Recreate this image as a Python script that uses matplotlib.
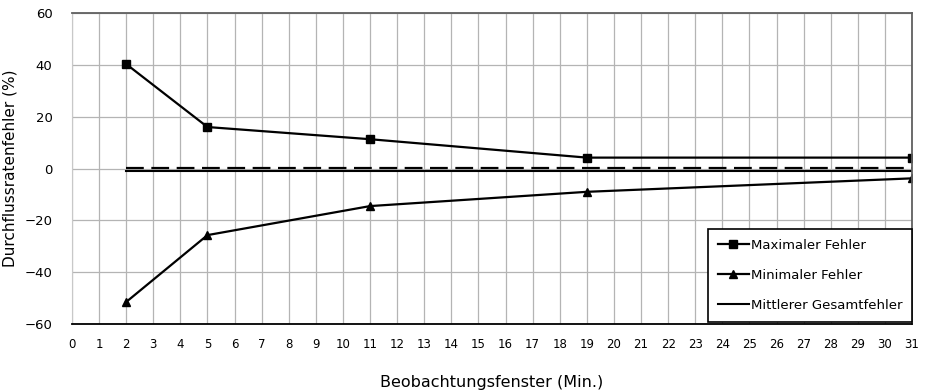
import matplotlib
matplotlib.use("Agg")
import matplotlib.pyplot as plt
import numpy as np

# Daten
fenster = [2, 5, 11, 19, 31]
max_fehler = [40.3, 16.0, 11.3, 4.2, 4.2]
min_fehler = [-51.5, -25.7, -14.5, -9.0, -3.8]
mittel_fehler = [-1.1, -1.1, -1.1, -1.1, -1.1]
null_linie = [0.35, 0.35, 0.35, 0.35, 0.35]

plt.rcParams['font.family'] = ['DejaVu Sans']

fig = plt.figure(figsize=(9.26, 3.92), dpi=100)
ax = fig.add_axes([72 / 926, 1 - 324 / 392, 840 / 926, 311 / 392])

ax.plot(fenster, null_linie, color='black', linestyle=(0, (8, 3.4)), linewidth=1.6)
ax.plot(fenster, mittel_fehler, color='black', linewidth=1.5, label='Mittlerer Gesamtfehler')
ax.plot(fenster, max_fehler, color='black', linewidth=1.6, marker='s', markersize=6,
        label='Maximaler Fehler')
ax.plot(fenster, min_fehler, color='black', linewidth=1.6, marker='^', markersize=6,
        label='Minimaler Fehler')

ax.set_xlim(0, 31)
ax.set_ylim(-60, 60)
ax.set_xticks(np.arange(0, 32, 1))
ax.set_yticks(np.arange(-60, 61, 20))
ax.grid(True, color='#b4b4b4', linewidth=0.9)
ax.set_axisbelow(True)
ax.tick_params(length=0)
ax.tick_params(axis='x', labelsize=8.5, pad=10)
ax.tick_params(axis='y', labelsize=9.5, pad=14)

ax.spines['left'].set_color('#c8c8c8')
ax.spines['bottom'].set_color('black')
ax.spines['bottom'].set_linewidth(1.3)
ax.spines['top'].set_color('#606060')
ax.spines['top'].set_linewidth(1.3)
ax.spines['right'].set_color('#606060')
ax.spines['right'].set_linewidth(1.3)

ax.set_xlabel('Beobachtungsfenster (Min.)', fontsize=11.5, labelpad=17)
ax.set_ylabel('Durchflussratenfehler (%)', fontsize=11, labelpad=5)

handles, labels = ax.get_legend_handles_labels()
order = [labels.index('Maximaler Fehler'), labels.index('Minimaler Fehler'),
         labels.index('Mittlerer Gesamtfehler')]
leg = ax.legend([handles[i] for i in order], [labels[i] for i in order],
                loc='lower right', bbox_to_anchor=(1.0, 0.007), fontsize=9.5,
                fancybox=False, framealpha=1, edgecolor='black', handlelength=2.4,
                handletextpad=0.1, labelspacing=1.3, borderpad=0.75, borderaxespad=0)
leg.get_frame().set_linewidth(1.2)

fig.savefig('out.png', dpi=100)
